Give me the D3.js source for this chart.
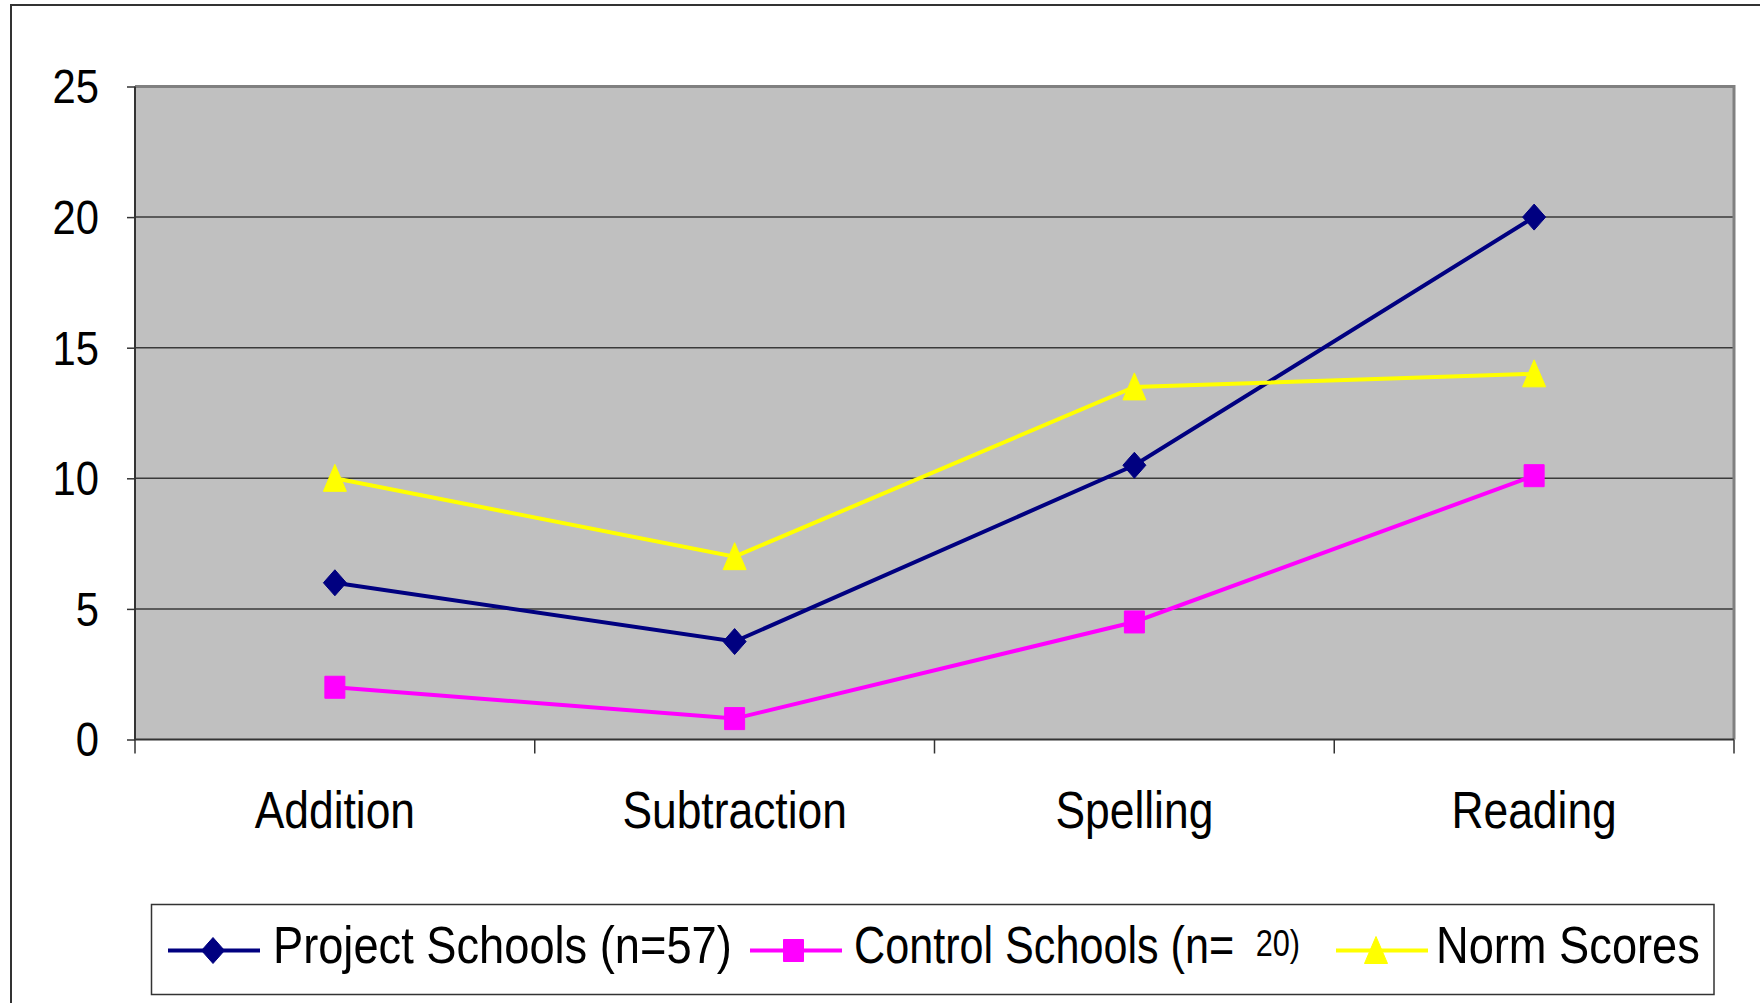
<!DOCTYPE html>
<html>
<head>
<meta charset="utf-8">
<script src="https://cdn.jsdelivr.net/npm/d3@7"></script>
<style>
  html, body { margin: 0; padding: 0; background: #fff; }
  svg { display: block; }
  text { font-family: "Liberation Sans", Arial, sans-serif; fill: #000; }
</style>
</head>
<body>
<svg id="chart" width="1760" height="1003"></svg>
<script>
// Data
var categories = ['Addition', 'Subtraction', 'Spelling', 'Reading'];
var projectSchools = [6, 3.75, 10.5, 20];
var controlSchools = [2, 0.8, 4.5, 10.1];
var normScores = [10, 7, 13.5, 14];
var yTicks = [0, 5, 10, 15, 20, 25];

var series = [
    { name: 'Project Schools (n=57)', values: projectSchools, color: '#000080', marker: 'diamond' },
    { name: 'Control Schools (n=', small: '20)', values: controlSchools, color: '#ff00ff', marker: 'square' },
    { name: 'Norm Scores', values: normScores, color: '#ffff00', marker: 'triangle' }
];

var W = 1760, H = 1003;
var plot = { left: 135, right: 1734, top: 86.5, bottom: 739.5 };
var SX = 0.87; // the original font is a condensed sans, squeeze Arial horizontally

var svg = d3.select('#chart');

// place a text at (x, y) squeezed horizontally
function squeeze(sel, px, py, sx) {
    sel.attr('x', 0)
        .attr('y', 0)
        .attr('transform', 'translate(' + px + ',' + py + ') scale(' + (sx || SX) + ',1)');
    return sel;
}

// Outer chart frame (runs off the right and bottom edges)
svg.append('rect')
    .attr('x', 11)
    .attr('y', 5)
    .attr('width', W)
    .attr('height', H)
    .style('fill', '#fff')
    .style('stroke', '#333')
    .style('stroke-width', 2);

var x = d3.scaleBand()
    .domain(categories)
    .range([plot.left, plot.right])
    .paddingInner(0)
    .paddingOuter(0);

var y = d3.scaleLinear()
    .domain([0, 25])
    .range([plot.bottom, plot.top]);

// Plot background
svg.append('rect')
    .attr('x', plot.left)
    .attr('y', plot.top)
    .attr('width', plot.right - plot.left)
    .attr('height', plot.bottom - plot.top)
    .style('fill', '#c0c0c0');

// Gridlines
svg.append('g')
    .selectAll('line')
    .data(yTicks.filter(function (d) { return d > 0 && d < 25; }))
    .enter()
    .append('line')
    .attr('x1', plot.left)
    .attr('x2', plot.right)
    .attr('y1', function (d) { return y(d); })
    .attr('y2', function (d) { return y(d); })
    .style('stroke', '#3a3a3a')
    .style('stroke-width', 1.5);

// Top and right border of the plot area
svg.append('path')
    .attr('d', 'M' + plot.left + ',' + y(25) + 'H' + plot.right + 'V' + plot.bottom)
    .style('fill', 'none')
    .style('stroke', '#808080')
    .style('stroke-width', 3);

// Y axis
var yAxis = d3.axisLeft(y)
    .tickValues(yTicks)
    .tickSize(8)
    .tickPadding(28);
var gy = svg.append('g')
    .attr('transform', 'translate(' + plot.left + ',0)')
    .call(yAxis);
gy.select('path').remove();
gy.selectAll('.tick line').style('stroke', '#333').style('stroke-width', 1.5);
gy.selectAll('.tick text')
    .attr('font-size', 48)
    .attr('dy', '0.34em')
    .style('font-family', '"Liberation Sans", Arial, sans-serif')
    .attr('x', -36 / SX)
    .attr('transform', 'scale(' + SX + ',1)');

// X axis: ticks at category boundaries
var bounds = categories.map(function (c) { return x(c); }).concat([plot.right]);
svg.append('g')
    .selectAll('line')
    .data(bounds)
    .enter()
    .append('line')
    .attr('x1', function (d) { return d; })
    .attr('x2', function (d) { return d; })
    .attr('y1', plot.bottom)
    .attr('y2', plot.bottom + 14)
    .style('stroke', '#333')
    .style('stroke-width', 1.5);

svg.append('g')
    .selectAll('text')
    .data(categories)
    .enter()
    .append('text')
    .attr('text-anchor', 'middle')
    .attr('font-size', 51)
    .text(function (d) { return d; })
    .each(function (d) { squeeze(d3.select(this), x(d) + x.bandwidth() / 2, 828); });

// Axis lines (left, bottom)
svg.append('path')
    .attr('d', 'M' + plot.left + ',' + plot.top + 'V' + plot.bottom + 'H' + plot.right)
    .style('fill', 'none')
    .style('stroke', '#333')
    .style('stroke-width', 2);

// Marker shapes
function markerPath(type) {
    if (type === 'diamond') return 'M0,-13L11.5,0L0,13L-11.5,0Z';
    if (type === 'square') return 'M-10,-11h20v22h-20Z';
    return 'M0,-14L11.5,13L-11.5,13Z';
}

var cx = function (d, i) { return x(categories[i]) + x.bandwidth() / 2; };
var line = d3.line()
    .x(cx)
    .y(function (d) { return y(d); });

series.forEach(function (s) {
    var g = svg.append('g');
    g.append('path')
        .datum(s.values)
        .attr('d', line)
        .style('fill', 'none')
        .style('stroke', s.color)
        .style('stroke-width', 4);
    g.selectAll('path.marker')
        .data(s.values)
        .enter()
        .append('path')
        .attr('class', 'marker')
        .attr('transform', function (d, i) { return 'translate(' + cx(d, i) + ',' + y(d) + ')'; })
        .attr('d', markerPath(s.marker))
        .style('fill', s.color)
        .style('stroke', s.color)
        .style('stroke-width', 1)
        .style('stroke-linejoin', 'round');
});

// Legend
var legend = svg.append('g');
legend.append('rect')
    .attr('x', 151.5)
    .attr('y', 904.5)
    .attr('width', 1562.5)
    .attr('height', 90)
    .style('fill', '#fff')
    .style('stroke', '#333')
    .style('stroke-width', 1.5);

// line start, marker centre, text start, text squeeze for each entry
var legendPos = [[168, 213, 273, 0.87], [750, 793.5, 854, 0.83], [1336, 1376, 1436, 0.87]];
var legendY = 950.5;
series.forEach(function (s, i) {
    var p = legendPos[i];
    legend.append('line')
        .attr('x1', p[0])
        .attr('x2', p[0] + 92)
        .attr('y1', legendY)
        .attr('y2', legendY)
        .style('stroke', s.color)
        .style('stroke-width', 4);
    legend.append('path')
        .attr('transform', 'translate(' + p[1] + ',' + legendY + ')')
        .attr('d', markerPath(s.marker))
        .style('fill', s.color)
        .style('stroke', s.color)
        .style('stroke-width', 1)
        .style('stroke-linejoin', 'round');
    var t = legend.append('text')
        .attr('font-size', 52)
        .text(s.name);
    squeeze(t, p[2], 963, p[3]);
    if (s.small) {
        t.append('tspan')
            .attr('dx', 26)
            .attr('dy', -7)
            .attr('font-size', 37)
            .text(s.small);
    }
});
</script>
</body>
</html>
